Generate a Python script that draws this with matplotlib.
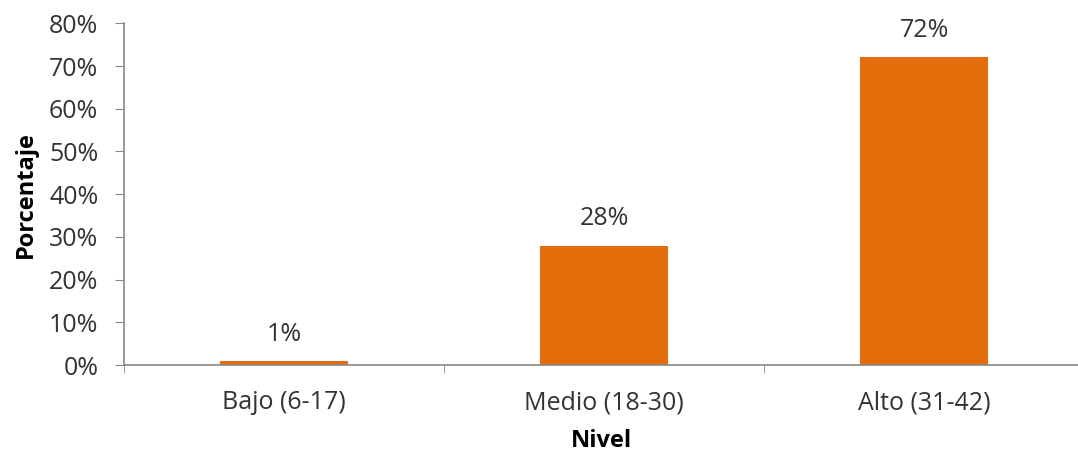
import matplotlib
matplotlib.use("Agg")
import matplotlib.pyplot as plt
from matplotlib.ticker import PercentFormatter

# porcentaje de casos por nivel
niveles = ["Bajo (6-17)", "Medio (18-30)", "Alto (31-42)"]
porcentajes = [0.01, 0.28, 0.72]
etiquetas = ["1%", "28%", "72%"]

plt.rcParams['font.family'] = ['Open Sans', 'DejaVu Sans']

fig = plt.figure(figsize=(10.78, 4.57), dpi=100)
ax = fig.add_axes([0.115, 0.201, 0.885, 0.748])

x = range(len(niveles))
barras = ax.bar(x, porcentajes, width=0.4, color="#E46C0A")

for b, txt in zip(barras, etiquetas):
    ax.text(b.get_x() + b.get_width() / 2, b.get_height() + 0.033, txt,
            ha="center", va="bottom", fontsize=18, color="#333333")

ax.set_ylim(0, 0.8)
ax.set_xlim(-0.5, 2.48)
ax.set_yticks([i / 10 for i in range(9)])
ax.yaxis.set_major_formatter(PercentFormatter(1.0, decimals=0))
ax.set_xticks(list(x))
ax.set_xticklabels(niveles)
ax.set_xticks([-0.5, 0.5, 1.5], minor=True)
ax.tick_params(axis="x", which="major", length=0, pad=18, labelsize=18, labelcolor="#333333")
ax.tick_params(axis="x", which="minor", length=6, color="#888888", direction="out")
ax.tick_params(axis="y", length=6.5, color="#888888", labelsize=18, labelcolor="#333333", pad=12)

for s in ["top", "right"]:
    ax.spines[s].set_visible(False)
for s in ["left", "bottom"]:
    ax.spines[s].set_color("#888888")
    ax.spines[s].set_linewidth(1.2)

ax.set_ylabel("Porcentaje", fontsize=17, fontweight="bold")
ax.yaxis.set_label_coords(-0.09, 0.5)
ax.set_xlabel("Nivel", fontsize=17, fontweight="bold", labelpad=10)

fig.savefig("out.png", dpi=100)
